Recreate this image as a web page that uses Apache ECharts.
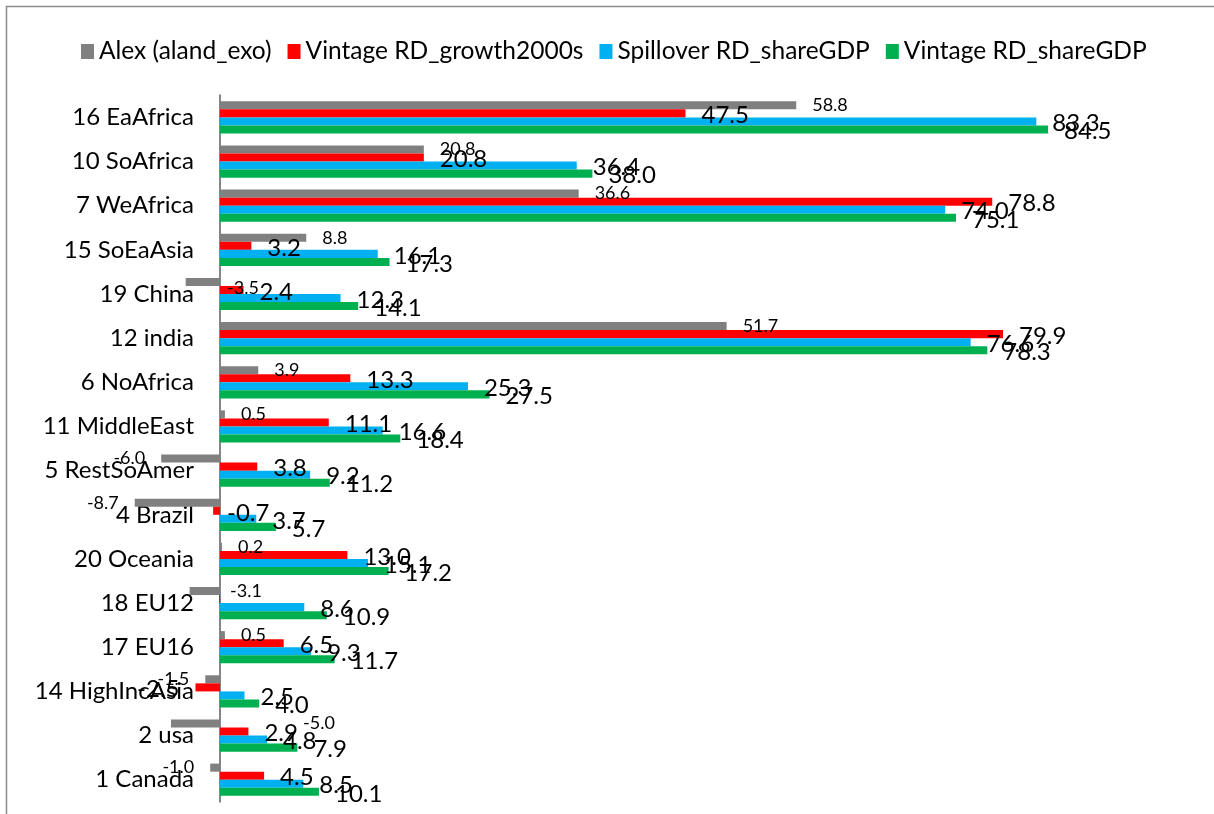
<!DOCTYPE html>
<html>
<head>
<meta charset="utf-8">
<script src="https://cdn.jsdelivr.net/npm/echarts@6/dist/echarts.min.js"></script>
<style>
  html, body { margin: 0; padding: 0; background: #ffffff; }
  #chart { width: 1214px; height: 814px; }
</style>
</head>
<body>
<div id="chart"></div>
<script>
// Regions, listed top to bottom
const regions = ['16 EaAfrica', '10 SoAfrica', '7 WeAfrica', '15 SoEaAsia', '19 China', '12 india',
  '6 NoAfrica', '11 MiddleEast', '5 RestSoAmer', '4 Brazil', '20 Oceania', '18 EU12', '17 EU16',
  '14 HighIncAsia', '2 usa', '1 Canada'];

const seriesNames = ['Alex (aland_exo)', 'Vintage RD_growth2000s', 'Spillover RD_shareGDP', 'Vintage RD_shareGDP'];

const alexAlandExo       = [58.8, 20.8, 36.6, 8.8, -3.5, 51.7, 3.9, 0.5, -6.0, -8.7, 0.2, -3.1, 0.5, -1.5, -5.0, -1.0];
const vintageGrowth2000s = [47.5, 20.8, 78.8, 3.2, 2.4, 79.9, 13.3, 11.1, 3.8, -0.7, 13.0, -0.1, 6.5, -2.5, 2.9, 4.5];
const spilloverShareGDP  = [83.3, 36.4, 74.0, 16.1, 12.3, 76.6, 25.3, 16.6, 9.2, 3.7, 15.1, 8.6, 9.3, 2.5, 4.8, 8.5];
const vintageShareGDP    = [84.5, 38.0, 75.1, 17.3, 14.1, 78.3, 27.5, 18.4, 11.2, 5.7, 17.2, 10.9, 11.7, 4.0, 7.9, 10.1];

const colors = ['#808080', '#ff0000', '#00b0f0', '#00b050'];
const FONT = 'Lato';

// Value axis range and plot box
const X_MIN = -20, X_MAX = 100;
const GRID_LEFT = 24, GRID_RIGHT = 14;
const CHART_W = 1214;
// pixel distance from the plot's left edge to the zero line
const zeroShift = (0 - X_MIN) / (X_MAX - X_MIN) * (CHART_W - GRID_LEFT - GRID_RIGHT);

// Hand-placed value labels (series index -> region -> label settings)
const labelTweaks = {
  0: {
    '19 China': { position: 'right', distance: 7, offset: [0, 6] },
    '18 EU12': { position: 'right', distance: 10 },
    '2 usa': { position: 'right', distance: 83 }
  },
  1: {
    '4 Brazil': { position: 'right', distance: 7, offset: [0, 3] },
    '18 EU12': { show: false }
  }
};

function buildData(values, sIdx) {
  const tweaks = labelTweaks[sIdx] || {};
  return values.map((v, i) => {
    const t = tweaks[regions[i]];
    return t ? { value: v, label: t } : v;
  });
}

const valueSeries = [alexAlandExo, vintageGrowth2000s, spilloverShareGDP, vintageShareGDP];

const series = valueSeries.map((vals, s) => ({
  name: seriesNames[s],
  type: 'bar',
  data: buildData(vals, s),
  itemStyle: { color: colors[s] },
  barGap: '0%',
  barCategoryGap: '27%',
  label: {
    show: true,
    position: 'outside',
    distance: 16,
    offset: s === 0 ? [0, 0] : [0, 2],
    color: '#000000',
    fontFamily: FONT,
    fontSize: s === 0 ? 18 : 24,
    formatter: p => Number(p.value).toFixed(1)
  }
}));

const chart = echarts.init(document.getElementById('chart'), null, { renderer: 'canvas' });

chart.setOption({
  animation: false,
  backgroundColor: '#ffffff',
  textStyle: { fontFamily: FONT },
  graphic: [{
    type: 'rect',
    shape: { x: 6.5, y: 6.5, width: 1240, height: 840 },
    style: { fill: 'none', stroke: '#8c8c8c', lineWidth: 1.5 },
    silent: true,
    z: -1
  }],
  legend: {
    data: seriesNames,
    left: 76,
    top: 34,
    icon: 'rect',
    itemWidth: 13,
    itemHeight: 15,
    itemGap: 16,
    textStyle: { fontFamily: FONT, fontSize: 24.5, color: '#000000' }
  },
  grid: {
    left: GRID_LEFT, right: GRID_RIGHT, top: 95.3, bottom: 12.2,
    containLabel: false,
    outerBoundsMode: 'none'
  },
  xAxis: {
    type: 'value',
    min: X_MIN,
    max: X_MAX,
    show: false
  },
  yAxis: {
    type: 'category',
    data: regions,
    inverse: true,
    // category axis sits on the zero line, labels just left of it
    offset: -zeroShift,
    axisLine: { show: true, onZero: false, lineStyle: { color: '#868686', width: 2 } },
    axisTick: { show: false },
    splitLine: { show: false },
    axisLabel: { fontFamily: FONT, fontSize: 24, color: '#000000', margin: 26 }
  },
  series: series
});
</script>
</body>
</html>
